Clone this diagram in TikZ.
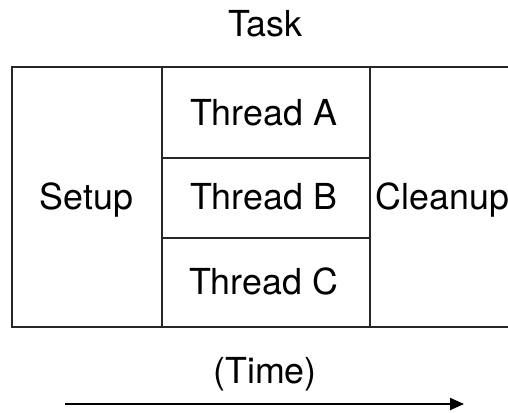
\documentclass[tikz,border=0pt]{standalone}
\usepackage{fontspec}
\setmainfont{TeX Gyre Heros}
\usetikzlibrary{arrows.meta}
\begin{document}
\begin{tikzpicture}[x=1pt,y=-1pt,
  lbl/.style={inner sep=0pt,anchor=base,font=\fontsize{35.8}{40}\selectfont},
  frame/.style={line width=2pt,draw=black!85},
  timearrow/.style={line width=2pt,-{Triangle[length=14pt,width=12pt]}}]
\useasboundingbox (0,0) rectangle (508,412);
% frame
\draw[frame] (508,67) -- (12,67) -- (12,327) -- (508,327);
\draw[frame] (162,67) -- (162,327);
\draw[frame] (370,67) -- (370,327);
\draw[frame] (162,158) -- (370,158);
\draw[frame] (162,238) -- (370,238);
% labels
\node[lbl] (task) at (265.5,37) {Task};
\node[lbl] (setup) at (86.5,209) {Setup};
\node[lbl] (ta) at (263.5,125) {Thread A};
\node[lbl] (tb) at (263.5,209) {Thread B};
\node[lbl] (tc) at (263.5,294) {Thread C};
\node[lbl,anchor=base west] (cleanup) at (375.5,209) {Cleanup};
\node[lbl] (time) at (265,383) {(Time)};
% arrow
\coordinate (t0) at (65,404);
\coordinate (t1) at (464,404);
\draw[timearrow] (t0) -- (t1);
\end{tikzpicture}
\end{document}
